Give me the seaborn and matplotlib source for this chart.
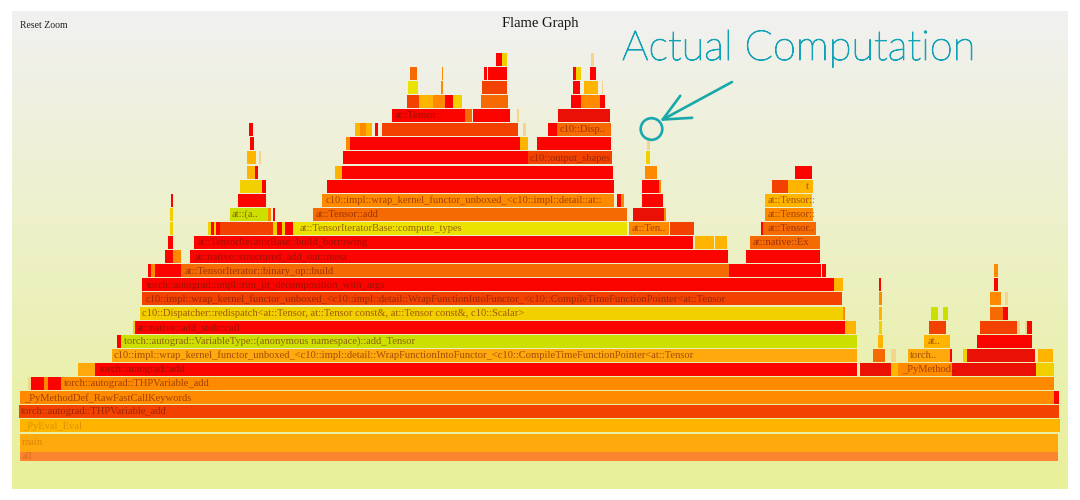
import numpy as np
import matplotlib
matplotlib.use("Agg")
import matplotlib.pyplot as plt
import matplotlib.patheffects as pe
from matplotlib.patches import Circle
import seaborn as sns

# One entry per stack depth (0 = root), each holding that depth's frames, left to right.
frame_starts = [
    [20], [20], [20], [19], [20, 1054],
    [28, 31, 44, 48, 61],
    [78, 95, 860, 890.5, 898, 951.5, 1036],
    [112, 873, 891, 908, 950, 963, 967, 1037.6],
    [117, 120.5, 877.5, 924, 976.6],
    [132.6, 135, 845, 878.5, 929, 980, 1017, 1025, 1027],
    [139.5, 843, 878.5, 931, 943, 990.4, 1003],
    [141.5, 878.5, 990, 1005],
    [141.5, 834.4, 879, 994],
    [148, 150.5, 155, 181, 729.4, 821.7, 994],
    [165, 172.7, 190, 746],
    [168, 194, 694.5, 710, 715, 750],
    [170, 208, 210.7, 214, 216, 220, 273.3, 277, 281.7, 285, 292.7, 629, 670, 760.7, 763.4],
    [170, 230, 268.3, 272.6, 313.3, 633, 663.6, 764.5],
    [170.5, 238.3, 321.7, 617, 620.5, 642, 765],
    [240, 262.3, 327.3, 642, 659, 772, 787.5],
    [246.7, 255, 335, 341.7, 644.6, 795],
    [246.7, 259, 343.3, 527.5, 646.3],
    [249.8, 346, 350, 520, 537, 646.5],
    [249.3, 355, 360, 366, 375, 381.7, 523, 548, 557],
    [392.3, 465, 473.3, 517, 558],
    [406.7, 419.3, 433.3, 445, 453.3, 480.7, 571.3, 581, 600],
    [408.3, 441, 482.3, 573, 584.4, 601.6],
    [410, 441.5, 484, 488.3, 573, 576, 590],
    [496, 501.7, 590.6],
]
frame_ends = [
    [1058], [1058], [1060], [1059], [1054, 1059],
    [31, 44, 48, 61, 1054],
    [95, 857, 890.5, 898, 951.5, 1036, 1054],
    [857, 885.4, 896, 950, 951.5, 967, 1035, 1053],
    [120.5, 857, 882.6, 950, 1032.4],
    [135, 845, 856, 882, 946, 1017, 1020, 1027, 1032.4],
    [843, 845, 882, 938, 948, 1003, 1007.6],
    [841.6, 882, 1001, 1008],
    [834.4, 843, 881, 998],
    [150.5, 155, 181, 729.4, 820.6, 826, 998],
    [172.7, 180.7, 728, 819.6],
    [173, 693, 710, 714, 727, 819.6],
    [173.3, 210.7, 214, 216, 220, 273.3, 277, 281.7, 285, 292.7, 627.4, 668.7, 693.5, 763.4, 816],
    [173, 268.3, 270.6, 275, 627.4, 663.6, 666.3, 813.4],
    [172.5, 266, 613.6, 620.5, 624, 662.5, 811.6],
    [261.7, 265.7, 613.6, 659, 661, 787.5, 812.7],
    [255, 258.3, 341.7, 613, 656.7, 811.6],
    [256, 261, 527.5, 612, 650],
    [254, 350, 520, 528.3, 611, 649.5],
    [253, 360, 366, 371.7, 378, 518.3, 525.7, 557, 611],
    [465, 472, 510, 519, 610],
    [419.3, 433.3, 445, 453.3, 461.7, 508.3, 581, 600, 605],
    [418.3, 443.3, 506.7, 580, 598, 603.3],
    [416.7, 443, 487.3, 506.7, 576, 581, 596.4],
    [501.7, 506.7, 593.7],
]
frame_heats = [
    ["coral"], ["amber"], ["gold"], ["vermilion"], ["orange", "red"],
    ["pale", "red", "orange", "red", "orange"],
    ["amber", "red", "crimson", "gold", "orange", "crimson", "sun"],
    ["amber", "ember", "pale", "amber", "red", "sun", "crimson", "gold"],
    ["red", "lime", "gold", "gold", "red"],
    ["sun", "red", "gold", "sun", "vermilion", "vermilion", "pale", "pale", "red"],
    ["sun", "orange", "gold", "lime", "lime", "ember", "red"],
    ["vermilion", "orange", "orange", "pale"],
    ["red", "gold", "red", "red"],
    ["red", "orange", "red", "ember", "red", "red", "orange"],
    ["red", "orange", "red", "red"],
    ["red", "red", "gold", "gold", "gold", "ember"],
    ["sun", "sun", "red", "sun", "red", "vermilion", "sun", "red", "sun", "red",
     "lemon", "orange", "vermilion", "red", "ember"],
    ["sun", "lime", "orange", "red", "ember", "crimson", "orange", "orange"],
    ["red", "red", "orange", "red", "orange", "red", "gold"],
    ["sun", "red", "red", "red", "orange", "vermilion", "gold"],
    ["gold", "red", "gold", "red", "orange", "red"],
    ["gold", "pale", "red", "vermilion", "sun"],
    ["red", "orange", "red", "gold", "red", "pale"],
    ["red", "gold", "orange", "gold", "red", "vermilion", "pale", "red", "ember"],
    ["red", "ember", "red", "pale", "crimson"],
    ["vermilion", "gold", "orange", "red", "sun", "ember", "red", "orange", "red"],
    ["lemon", "orange", "vermilion", "red", "gold", "pale"],
    ["ember", "orange", "red", "red", "red", "sun", "red"],
    ["red", "sun", "pale"],
]

# Readable frame names: depth, first pixel and text.
label_depths = [0, 1, 2, 3, 4, 5, 6, 7, 8, 9, 10, 11, 12, 13, 14, 15,
                16, 16, 17, 17, 18, 21, 23, 24, 6, 7, 15, 16, 17, 18, 19, 8]
label_starts = [22, 22, 22, 21, 24, 64, 100, 114, 124, 137, 142, 146, 147, 185, 195, 198,
                300, 632, 232, 316, 326, 530, 560, 395, 902, 910, 753, 768, 768, 768, 806, 928]
label_texts = [
    "all", "main", "_PyEval_Eval",
    "torch::autograd::THPVariable_add",
    "_PyMethodDef_RawFastCallKeywords",
    "torch::autograd::THPVariable_add",
    "torch::autograd::add",
    "c10::impl::wrap_kernel_functor_unboxed_<c10::impl::detail::WrapFunctionIntoFunctor_<c10::CompileTimeFunctionPointer<at::Tensor",
    "torch::autograd::VariableType::(anonymous namespace)::add_Tensor",
    "at::native::add_stub::call",
    "c10::Dispatcher::redispatch<at::Tensor, at::Tensor const&, at::Tensor const&, c10::Scalar>",
    "c10::impl::wrap_kernel_functor_unboxed_<c10::impl::detail::WrapFunctionIntoFunctor_<c10::CompileTimeFunctionPointer<at::Tensor",
    "torch::autograd::impl::run_jit_decomposition_with_args",
    "at::TensorIterator::binary_op::build",
    "at::native::structured_add_out::meta",
    "at::TensorIteratorBase::build_borrowing",
    "at::TensorIteratorBase::compute_types", "at::Ten..",
    "at::(a..", "at::Tensor::add",
    "c10::impl::wrap_kernel_functor_unboxed_<c10::impl::detail::at::",
    "c10::output_shapes", "c10::Disp..", "at::Tensor",
    "_PyMethod..", "torch..", "at::native::Ex", "at::Tensor..", "at::Tensor::",
    "at::Tensor::", "t", "at..",
]
faint_depths = [0, 1, 2]

heat_palette = {
    "red": "#FB0400", "crimson": "#EA1006", "vermilion": "#F34200", "ember": "#F66A04",
    "orange": "#FF8A00", "coral": "#FA8430", "amber": "#FFA90C", "gold": "#FFB400",
    "sun": "#F2D000", "lemon": "#EBE200", "lime": "#CBE000", "pale": "#F3D68C",
}

sns.set_theme(style="white")
fig, ax = plt.subplots(figsize=(10.8, 5), dpi=100)
fig.subplots_adjust(0, 0, 1, 1)


def row_box(depth):
    if depth == 0:
        return 456.3, 9.4
    if depth == 1:
        return 442.6, 18
    return 454 - 14.1 * depth, 13.0


gradient = np.linspace(0, 1, 256)[:, None, None]
top, bottom = np.array([0.945, 0.945, 0.945]), np.array([0.91, 0.945, 0.60])
ax.imshow(top + (bottom - top) * gradient, extent=(12, 1068, 489, 11), aspect="auto", zorder=0)

for depth, (starts, ends, heats) in enumerate(zip(frame_starts, frame_ends, frame_heats)):
    centre, height = row_box(depth)
    for start, end, heat in zip(starts, ends, heats):
        sns.barplot(x=[end - start], y=[centre], orient="y", native_scale=True, left=start,
                    width=height, color=heat_palette[heat], saturation=1, linewidth=0,
                    errorbar=None, ax=ax, zorder=2)

for depth, start, text in zip(label_depths, label_starts, label_texts):
    ax.text(start, row_box(depth)[0] + 0.3, text, family="Liberation Serif", fontsize=7.6,
            color="#6a1400", alpha=0.22 if depth in faint_depths else 0.62,
            va="center", ha="left", zorder=3)

ax.text(20, 25, "Reset Zoom", family="Liberation Serif", fontsize=7, color="#222222", va="center")
ax.text(540, 23.5, "Flame Graph", family="Liberation Serif", fontsize=10.5, color="#111111",
        va="center", ha="center")

teal = "#12A2B8"
ax.text(622, 49, "Actual Computation", family="Lato", fontweight="light", fontsize=30,
        color=teal, va="center", ha="left", zorder=4,
        path_effects=[pe.withStroke(linewidth=0.7, foreground=teal)])
ax.add_patch(Circle((651.5, 129), 10.8, fill=False, edgecolor="#18A8B0", linewidth=1.9, zorder=4))
ax.annotate("", xy=(660, 121), xytext=(732, 82), zorder=4,
            arrowprops=dict(arrowstyle="->,head_length=1.6,head_width=0.75", color="#18A8A8", lw=1.9,
                            shrinkA=0, shrinkB=0))

ax.set_xlim(0, 1080)
ax.set_ylim(500, 0)
ax.axis("off")
fig.savefig("out.png", dpi=100, facecolor="white")
